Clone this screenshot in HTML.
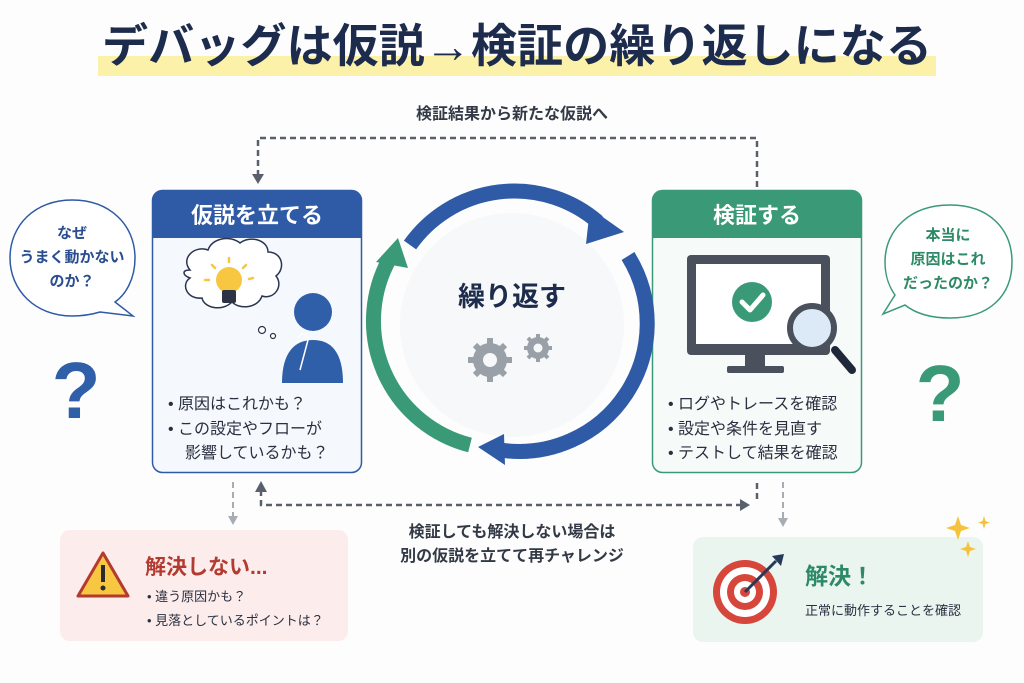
<!DOCTYPE html>
<html><head><meta charset="utf-8"><style>
body{margin:0;background:#fff}
svg{display:block;font-family:"Liberation Sans","Noto Sans CJK JP",sans-serif}
</style></head><body>
<svg width="1024" height="683" viewBox="0 0 1024 683">
<rect width="1024" height="683" fill="#fdfdfd"/>
<!-- title -->
<rect x="98" y="56" width="838" height="20" fill="#fbf1a8"/>
<text x="517" y="62" text-anchor="middle" font-size="46" font-weight="bold" fill="#1d2c4c" textLength="830" lengthAdjust="spacingAndGlyphs">デバッグは仮説→検証の繰り返しになる</text>
<!-- top connector -->
<text x="512" y="119" text-anchor="middle" font-size="16" font-weight="bold" fill="#333a46">検証結果から新たな仮説へ</text>
<path d="M757,187 V138 H258 V176" fill="none" stroke="#5a606b" stroke-width="2.5" stroke-dasharray="6,4"/>
<path d="M252,174 L258,184 L264,174 z" fill="#5a606b"/>
<!-- left bubble -->
<path d="M72,200 C110,200 135,225 135,258 C135,280 125,295 115,302 L133,316 L100,312 C90,315 80,316 72,316 C35,316 10,290 10,258 C10,225 35,200 72,200 z" fill="#fff" stroke="#2f5aa6" stroke-width="1.5"/>
<text font-size="15" font-weight="bold" fill="#2a4d8f" text-anchor="middle"><tspan x="72" y="238">なぜ</tspan><tspan x="72" y="262">うまく動かない</tspan><tspan x="72" y="286">のか？</tspan></text>
<text x="76" y="418" text-anchor="middle" font-size="80" font-weight="bold" fill="#2f5fa8">?</text>
<!-- right bubble -->
<path d="M950,205 C990,205 1012,230 1012,262 C1012,295 990,318 950,318 C930,318 915,313 905,305 L883,314 L895,295 C888,285 885,275 885,262 C885,230 910,205 950,205 z" fill="#fff" stroke="#3a9a78" stroke-width="1.5"/>
<text font-size="15" font-weight="bold" fill="#2e8a66" text-anchor="middle"><tspan x="948" y="240">本当に</tspan><tspan x="948" y="264">原因はこれ</tspan><tspan x="948" y="288">だったのか？</tspan></text>
<text x="940" y="421" text-anchor="middle" font-size="80" font-weight="bold" fill="#3a9a78">?</text>
<!-- left box -->
<rect x="152.5" y="190.5" width="209" height="282" rx="10" fill="#f5f8fc" stroke="#2f5aa6" stroke-width="1.5"/>
<path d="M152.5,238 V200.5 Q152.5,190.5 162.5,190.5 H351.5 Q361.5,190.5 361.5,200.5 V238 z" fill="#2f5aa6"/>
<text x="257" y="223" text-anchor="middle" font-size="22" font-weight="bold" fill="#fff">仮説を立てる</text>
<path d="M190,270 C180,258 195,245 208,250 C212,238 230,235 240,243 C250,235 268,240 268,252 C282,252 286,268 276,276 C284,286 274,300 262,296 C258,308 240,310 232,302 C222,312 204,308 202,298 C188,300 180,285 190,278 C182,275 182,270 190,270 z" fill="#fff" stroke="#2a3550" stroke-width="1.5"/>
<circle cx="262" cy="330" r="3.5" fill="#fff" stroke="#2a3550" stroke-width="1.2"/>
<circle cx="273" cy="336" r="2.5" fill="#fff" stroke="#2a3550" stroke-width="1.2"/>
<circle cx="229" cy="280" r="13" fill="#f7c742"/>
<rect x="222" y="290" width="14" height="13" rx="2" fill="#2b3344"/>
<g stroke="#f7c742" stroke-width="2.5" stroke-linecap="round"><line x1="229" y1="258" x2="229" y2="262"/><line x1="212" y1="265" x2="215" y2="268"/><line x1="246" y1="265" x2="243" y2="268"/><line x1="205" y1="280" x2="209" y2="280"/><line x1="249" y1="279" x2="253" y2="278"/></g>
<circle cx="313" cy="312" r="19" fill="#2f5fa8"/>
<path d="M282,383 C282,352 295,340 313,340 C331,340 343,352 343,383 z" fill="#2f5fa8"/>
<path d="M298,338 Q305,328 308,340 L300,370" stroke="#fff" stroke-width="1.5" fill="none"/>
<text font-size="16" fill="#2a3040"><tspan x="168" y="409">• 原因はこれかも？</tspan><tspan x="168" y="434">• この設定やフローが</tspan><tspan x="185" y="458">影響しているかも？</tspan></text>
<!-- right box -->
<rect x="652.5" y="190.5" width="209" height="282" rx="10" fill="#f6faf8" stroke="#3a9a78" stroke-width="1.5"/>
<path d="M652.5,238 V200.5 Q652.5,190.5 662.5,190.5 H851.5 Q861.5,190.5 861.5,200.5 V238 z" fill="#3a9a78"/>
<text x="757" y="223" text-anchor="middle" font-size="22" font-weight="bold" fill="#fff">検証する</text>
<rect x="687" y="255" width="143" height="100" rx="4" fill="#4a515c"/>
<rect x="696" y="264" width="125" height="80" fill="#fff"/>
<rect x="745" y="355" width="20" height="12" fill="#4a515c"/>
<rect x="727" y="366" width="57" height="7" rx="2" fill="#4a515c"/>
<circle cx="752" cy="302" r="20" fill="#3a9a78"/>
<path d="M742,302 L750,310 L763,295" stroke="#fff" stroke-width="5" fill="none" stroke-linecap="round" stroke-linejoin="round"/>
<line x1="835" y1="350" x2="852" y2="370" stroke="#1f2838" stroke-width="8" stroke-linecap="round"/>
<circle cx="812" cy="328" r="22" fill="#dbeaf6" stroke="#4a515c" stroke-width="6"/>
<text font-size="16" fill="#2a3040"><tspan x="668" y="409">• ログやトレースを確認</tspan><tspan x="668" y="434">• 設定や条件を見直す</tspan><tspan x="668" y="458">• テストして結果を確認</tspan></text>
<!-- cycle -->
<circle cx="512" cy="325" r="112" fill="#f7f8fa"/>
<path d="M410,245 A128,128 0 0 1 598,222" fill="none" stroke="#2f5aa6" stroke-width="15"/>
<path d="M590,208 L624,232 L586,244 z" fill="#2f5aa6"/>
<path d="M628,256 A128,128 0 0 1 500,450" fill="none" stroke="#2f5aa6" stroke-width="15"/>
<path d="M504,434 L478,447 L505,465 z" fill="#2f5aa6"/>
<path d="M470,445 A128,128 0 0 1 390,258" fill="none" stroke="#3a9a78" stroke-width="15"/>
<path d="M376,262 L398,238 L408,268 z" fill="#3a9a78"/>
<text x="512" y="306" text-anchor="middle" font-size="27" font-weight="bold" fill="#1d2c4c">繰り返す</text>
<g fill="#9aa0a8">
<circle cx="490" cy="360" r="17"/><circle cx="538" cy="348" r="11"/>
<g stroke="#9aa0a8" stroke-width="6"><line x1="490" y1="338" x2="490" y2="382"/><line x1="468" y1="360" x2="512" y2="360"/><line x1="475" y1="345" x2="505" y2="375"/><line x1="505" y1="345" x2="475" y2="375"/></g>
<g stroke="#9aa0a8" stroke-width="4"><line x1="538" y1="334" x2="538" y2="362"/><line x1="524" y1="348" x2="552" y2="348"/><line x1="528" y1="338" x2="548" y2="358"/><line x1="548" y1="338" x2="528" y2="358"/></g>
</g>
<circle cx="490" cy="360" r="7" fill="#f7f8fa"/><circle cx="538" cy="348" r="4.5" fill="#f7f8fa"/>
<!-- bottom connectors -->
<path d="M233,482 V516" stroke="#a8acb3" stroke-width="2" stroke-dasharray="6,4" fill="none"/>
<path d="M228,516 L233,525 L238,516 z" fill="#a8acb3"/>
<path d="M783,482 V518" stroke="#a8acb3" stroke-width="2" stroke-dasharray="6,4" fill="none"/>
<path d="M778,518 L783,527 L788,518 z" fill="#a8acb3"/>
<path d="M261,490 V505 H742" stroke="#5a606b" stroke-width="2.5" stroke-dasharray="6,4" fill="none"/>
<path d="M255,492 L261,481 L267,492 z" fill="#5a606b"/>
<path d="M740,499 L750,505 L740,511 z" fill="#5a606b"/>
<path d="M757,483 V500" stroke="#5a606b" stroke-width="2.5" stroke-dasharray="6,4" fill="none"/>
<text x="512" y="537" text-anchor="middle" font-size="16" font-weight="bold" fill="#333a46">検証しても解決しない場合は</text>
<text x="512" y="561" text-anchor="middle" font-size="16" font-weight="bold" fill="#333a46">別の仮説を立てて再チャレンジ</text>
<!-- red box -->
<rect x="60" y="530" width="288" height="111" rx="10" fill="#fcecec"/>
<path d="M103,553 L128,596 L78,596 z" fill="#f7c742" stroke="#b33a2f" stroke-width="3" stroke-linejoin="round"/>
<rect x="101" y="565" width="4" height="17" fill="#2b2b2b"/><circle cx="103" cy="588" r="2.5" fill="#2b2b2b"/>
<text x="145" y="574" font-size="21" font-weight="bold" fill="#b33a2f">解決しない...</text>
<text font-size="13" fill="#2a3040"><tspan x="147" y="601">• 違う原因かも？</tspan><tspan x="147" y="625">• 見落としているポイントは？</tspan></text>
<!-- green box -->
<rect x="693" y="537" width="290" height="105" rx="10" fill="#eaf5ef"/>
<circle cx="745" cy="592" r="32" fill="#d6463a"/><circle cx="745" cy="592" r="25" fill="#fff"/><circle cx="745" cy="592" r="18" fill="#d6463a"/><circle cx="745" cy="592" r="11" fill="#fff"/><circle cx="745" cy="592" r="5" fill="#d6463a"/>
<line x1="745" y1="592" x2="776" y2="561" stroke="#253a5a" stroke-width="3"/>
<path d="M772,556 L784,554 L781,566 z" fill="#253a5a"/>
<text x="805" y="584" font-size="23" font-weight="bold" fill="#2e8a66">解決！</text>
<text x="805" y="615" font-size="13" fill="#2a3040">正常に動作することを確認</text>
<g fill="#f5c33b">
<path d="M958,516 L961,525 L970,528 L961,531 L958,540 L955,531 L946,528 L955,525 z"/>
<path d="M984,516 L985.5,521 L990,522.5 L985.5,524 L984,529 L982.5,524 L978,522.5 L982.5,521 z"/>
<path d="M968,541 L970,547 L976,549 L970,551 L968,557 L966,551 L960,549 L966,547 z"/>
</g>
</svg>
</body></html>
